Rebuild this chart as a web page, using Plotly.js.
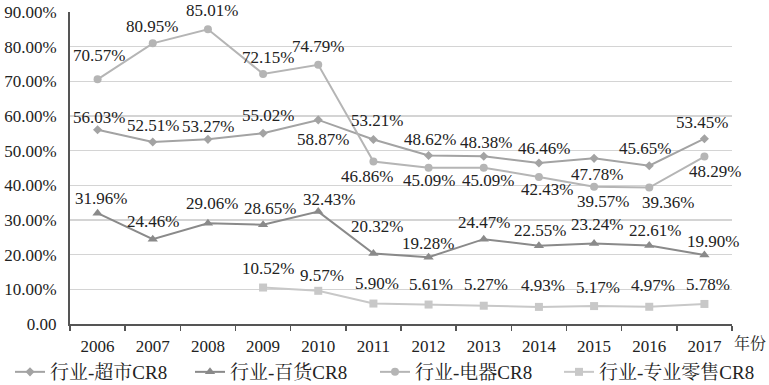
<!DOCTYPE html>
<html><head><meta charset="utf-8">
<script src="https://cdn.plot.ly/plotly-3.0.1.min.js"></script>
<style>html,body{margin:0;padding:0;background:#fff}#c{width:769px;height:385px}</style>
</head><body><div id="c"></div>
<script>
const years = ["2006","2007","2008","2009","2010","2011","2012","2013","2014","2015","2016","2017"];
const supermarket = [56.03,52.51,53.27,55.02,58.87,53.21,48.62,48.38,46.46,47.78,45.65,53.45];
const deptStore = [31.96,24.46,29.06,28.65,32.43,20.32,19.28,24.47,22.55,23.24,22.61,19.90];
const electrical = [70.57,80.95,85.01,72.15,74.79,46.86,45.09,45.09,42.43,39.57,39.36,48.29];
const specialty = [null,null,null,10.52,9.57,5.90,5.61,5.27,4.93,5.17,4.97,5.78];
const seriesNames = ["行业-超市CR8","行业-百货CR8","行业-电器CR8","行业-专业零售CR8"];
const yTickVals = [0,10,20,30,40,50,60,70,80,90];
const yTickText = ["0.00","10.00%","20.00%","30.00%","40.00%","50.00%","60.00%","70.00%","80.00%","90.00%"];
const xTitle = "年份";

// label placement (pixel offsets of each data label from its point: dx right, dy up)
const supDx = [1,0,0,5,5,4,1,2,5,3,-4,-2];
const supDy = [12,16,13,18,-20,19,16,14,14,-16,17,16];
const eleDx = [1,-1,4,5,0,-6,0,4,8,9,19,11];
const eleDy = [24,17,19,16,18,-15,-13,-13,-13,-15,-15,-15];
const depDx = [3,0,4,7,11,4,-1,0,1,3,6,9];
const depDy = [15,18,20,16,12,27,14,17,15,19,15,14];
const speDx = [0,0,0,5,4,4,2,2,4,4,4,4];
const speDy = [0,0,0,19,15,20,20,21,21,19,21,19];

const FONT = '"Liberation Serif","Times New Roman","Noto Serif CJK SC","Noto Sans CJK SC",serif';
function tr(name,y,color,sym,size,lg){
  return {type:'scatter',mode:'lines+markers',name:name,x:years,y:y,legend:lg,
    line:{color:color,width:2},marker:{color:color,symbol:sym,size:size},
    cliponaxis:false,hoverinfo:'skip'};
}
const data=[
  tr(seriesNames[0],supermarket,'#a3a3a3','diamond',7,'legend'),
  tr(seriesNames[1],deptStore,'#8a8a8a','triangle-up',9,'legend2'),
  tr(seriesNames[2],electrical,'#b5b5b5','circle',8,'legend3'),
  tr(seriesNames[3],specialty,'#c8c8c8','square',8,'legend4')
];
function labels(vals,dx,dy){
  const out=[];
  vals.forEach((v,i)=>{ if(v==null) return;
    out.push({x:i,y:v,xref:'x',yref:'y',text:v.toFixed(2)+'%',showarrow:false,
      xanchor:'center',yanchor:'middle',xshift:dx[i],yshift:dy[i],
      font:{family:FONT,size:17,color:'#222'}});
  });
  return out;
}
function lg(px){
  return {orientation:'h',xref:'container',yref:'container',x:px/769,xanchor:'left',y:(385-372)/385,yanchor:'middle',
    font:{family:FONT,size:19,color:'#222'},itemwidth:30,bgcolor:'rgba(0,0,0,0)'};
}
const annotations=[].concat(
  labels(supermarket,supDx,supDy),labels(electrical,eleDx,eleDy),
  labels(deptStore,depDx,depDy),labels(specialty,speDx,speDy),
  [{text:xTitle,xref:'paper',yref:'paper',x:1.0,y:0,xanchor:'left',yanchor:'middle',yshift:-19,xshift:0,
    showarrow:false,font:{family:FONT,size:16,color:'#222'}}]);
const layout={
  width:769,height:385,margin:{l:70,r:37,t:12,b:61},
  paper_bgcolor:'#fff',plot_bgcolor:'#fff',
  font:{family:FONT,size:16,color:'#222'},
  showlegend:true,
  legend:lg(10),legend2:lg(190),legend3:lg(375),legend4:lg(559),
  xaxis:{type:'category',range:[-0.5,11.5],showgrid:false,showline:true,linecolor:'#555',linewidth:2,
    ticks:'outside',tickson:'boundaries',ticklen:5,tickcolor:'#555',tickwidth:1.5,ticklabelstandoff:6,
    tickfont:{family:FONT,size:17,color:'#222'},zeroline:false,automargin:false},
  yaxis:{range:[0,90],tickvals:yTickVals,ticktext:yTickText,showgrid:true,gridcolor:'#d4d4d4',gridwidth:1.5,
    showline:true,linecolor:'#555',linewidth:2,ticks:'',ticklabelstandoff:8,
    tickfont:{family:FONT,size:17,color:'#222'},zeroline:false,automargin:false},
  annotations:annotations
};
Plotly.newPlot('c',data,layout,{displayModeBar:false,staticPlot:true});
</script></body></html>
